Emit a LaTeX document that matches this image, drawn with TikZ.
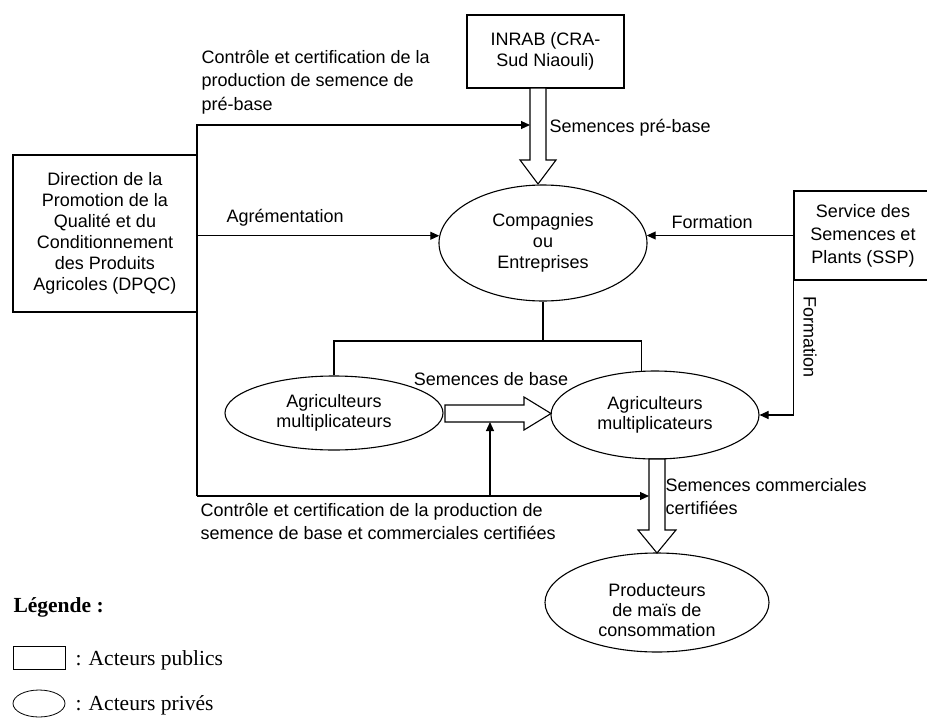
\documentclass[tikz,border=0pt]{standalone}
\usepackage{fontspec}
\setmainfont{Liberation Sans}
\newfontfamily\legendfont{Liberation Serif}
\usetikzlibrary{arrows.meta,shapes.geometric}
\begin{document}
\begin{tikzpicture}[x=1pt,y=-1pt, line width=1.1pt,
  box/.style={draw, rectangle, inner sep=0pt, align=center, font=\fontsize{18}{21}\selectfont},
  oval/.style={draw, ellipse, inner sep=0pt, align=center, font=\fontsize{18}{20}\selectfont},
  lbl/.style={inner sep=0pt, align=left, anchor=west, font=\fontsize{18}{23.5}\selectfont},
  arr/.style={-{Triangle[length=9pt,width=8pt]}},
  hollow/.style={draw, fill=white, line join=miter},
  legtext/.style={inner sep=0pt, anchor=west, font=\legendfont\fontsize{21.5}{24}\selectfont}]

\useasboundingbox (0,0) rectangle (927,718);

% actors
\node[box, minimum width=157pt, minimum height=73pt] (inrab) at (545.5,51.5) {INRAB (CRA-\\Sud Niaouli)};
\node[box, minimum width=184pt, minimum height=157pt] (dpqc) at (105,233.5) {Direction de la\\Promotion de la\\Qualité et du\\Conditionnement\\des Produits\\Agricoles (DPQC)};
\node[box, font=\fontsize{18}{23}\selectfont, minimum width=138pt, minimum height=89pt] (ssp) at (863,235.5) {Service des\\Semences et\\Plants (SSP)};
\node[oval, font=\fontsize{18}{21}\selectfont, minimum width=208pt, minimum height=116pt] (comp) at (543,243) {Compagnies\\ou\\Entreprises};
\node[oval, minimum width=218pt, minimum height=74pt] (agl) at (334,413) {Agriculteurs\\multiplicateurs};
\node[oval, minimum width=208pt, minimum height=88pt] (agr) at (655,415) {Agriculteurs\\multiplicateurs};
\node[oval, minimum width=224pt, minimum height=99pt] (prod) at (657,602.5) {};
\node[align=center, inner sep=0pt, font=\fontsize{18}{20}\selectfont] (prodtext) at (657,610) {Producteurs\\de maïs de\\consommation};

% connectors
\coordinate (c1) at (197,125);
\coordinate (c2) at (197,496);
\coordinate (sh1) at (530,125);
\coordinate (sh3) at (649,496);
\coordinate (j2) at (490,496);
\coordinate (sh2) at (490,422);
\coordinate (br) at (543,341);

\draw[arr] (c2) -- (c1) -- (sh1);
\draw[arr] (dpqc.east |- comp.176) -- (comp.176);
\draw[arr] (ssp.west) -- (ssp.west -| comp.4);
\draw[arr] (ssp.south west) |- (agr.east);
\draw (comp.south) -- (br);
\draw (agl.north) |- (br) -| (agr.107);
\draw[arr] (c2) -- (sh3);
\draw[arr] (j2) -- (sh2);

% hollow arrows
\draw[hollow] (530,88) -- (530,160) -- (520,160) -- (538,184) -- (556,160) -- (546,160) -- (546,88) -- cycle;
\draw[hollow] (445,405) -- (524,405) -- (524,397) -- (551,413.5) -- (524,430) -- (524,422) -- (445,422) -- cycle;
\draw[hollow] (649,459) -- (649,530) -- (638,530) -- (657,553) -- (676,530) -- (665,530) -- (665,459) -- cycle;

% labels
\node[lbl] (t1) at (201,82) {Contrôle et certification de la\\production de semence de\\pré-base};
\node[lbl] (t2) at (549,128) {Semences pré-base};
\node[lbl] (t3) at (226,218) {Agrémentation};
\node[lbl] (t4) at (671,222) {Formation};
\node[lbl, anchor=center, rotate=-90] (t5) at (810,337) {Formation};
\node[lbl, anchor=center] (t6) at (491,379) {Semences de base};
\node[lbl, font=\fontsize{18}{23}\selectfont] (t7) at (665,496.5) {Semences commerciales\\certifiées};
\node[lbl, font=\fontsize{18}{23}\selectfont] (t8) at (200,521.5) {Contrôle et certification de la production de\\semence de base et commerciales certifiées};

% legend
\node[legtext, font=\legendfont\bfseries\fontsize{21.5}{24}\selectfont] (leg) at (13,607) {Légende :};
\node[draw, rectangle, line width=0.8pt, minimum width=52pt, minimum height=23pt, inner sep=0pt] (legbox) at (39,657.5) {};
\node[legtext] (legpub) at (75,660) {: Acteurs publics};
\node[draw, ellipse, line width=0.8pt, minimum width=52pt, minimum height=27pt, inner sep=0pt] (legell) at (39,703.5) {};
\node[legtext] (legpriv) at (75,705) {: Acteurs privés};
\end{tikzpicture}
\end{document}
